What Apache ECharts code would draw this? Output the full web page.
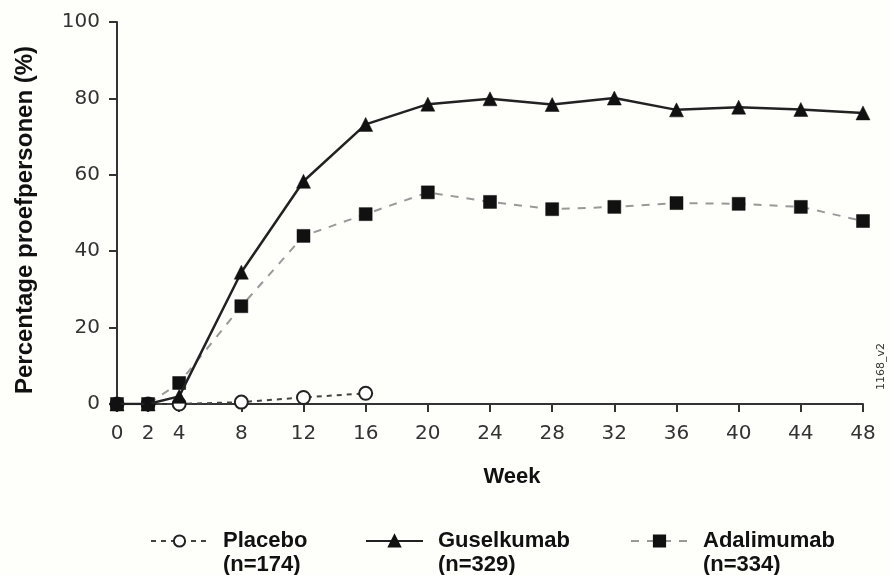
<!DOCTYPE html>
<html>
<head>
<meta charset="utf-8">
<script src="https://cdn.jsdelivr.net/npm/echarts@6/dist/echarts.min.js"></script>
<style>html,body{margin:0;padding:0;background:#fefefb;}#c{width:890px;height:575px;}</style>
</head>
<body>
<div id="c"></div>
<script>
const weeks = [0, 2, 4, 8, 12, 16, 20, 24, 28, 32, 36, 40, 44, 48];
const placeboWeeks = [0, 2, 4, 8, 12, 16];
const placebo = [0, 0, 0, 0.5, 1.7, 2.8];
const guselkumab = [0, 0, 2, 34.5, 58.3, 73.2, 78.5, 79.9, 78.4, 80.1, 77.0, 77.7, 77.1, 76.2];
const adalimumab = [0, 0, 5.5, 25.6, 44.0, 49.7, 55.4, 52.9, 51.0, 51.6, 52.6, 52.4, 51.6, 47.9];
const xTicks = [0, 2, 4, 8, 12, 16, 20, 24, 28, 32, 36, 40, 44, 48];
const yTicks = [0, 20, 40, 60, 80, 100];
const names = ['Placebo', 'Guselkumab', 'Adalimumab'];
const counts = ['(n=174)', '(n=329)', '(n=334)'];

const pair = (xs, ys) => xs.map((x, i) => [x, ys[i]]);
const legendText = n => '\n' + n + '\n' + counts[names.indexOf(n)];

const chart = echarts.init(document.getElementById('c'));
const legendBase = {
  orient: 'horizontal', top: 500, itemWidth: 57, itemHeight: 14,
  textStyle: { fontFamily: 'Liberation Sans', fontWeight: 'bold', fontSize: 22, color: '#111', lineHeight: 24, padding: [0, 0, 0, 10] },
  formatter: legendText, selectedMode: false
};
chart.setOption({
  backgroundColor: '#fefefb',
  animation: false,
  grid: { left: 117, right: 27, top: 22, bottom: 171 },
  xAxis: {
    type: 'value', min: 0, max: 48,
    name: 'Week', nameLocation: 'middle', nameGap: 62,
    nameTextStyle: { fontFamily: 'Liberation Sans', fontWeight: 'bold', fontSize: 22, color: '#111', padding: [0, 0, 0, 44] },
    axisLine: { lineStyle: { color: '#333', width: 2 } },
    axisTick: { customValues: xTicks, length: 8, lineStyle: { color: '#333', width: 2 } },
    axisLabel: { customValues: xTicks, fontFamily: 'DejaVu Sans', fontSize: 20, color: '#333', margin: 20 },
    splitLine: { show: false }
  },
  yAxis: {
    type: 'value', min: 0, max: 100, interval: 20,
    name: 'Percentage proefpersonen (%)', nameLocation: 'middle', nameGap: 80, nameRotate: 90,
    nameTextStyle: { fontFamily: 'Liberation Sans', fontWeight: 'bold', fontSize: 24, color: '#111', padding: [0, 14, 0, 0] },
    axisLine: { show: true, lineStyle: { color: '#333', width: 2 } },
    axisTick: { show: true, length: 8, lineStyle: { color: '#333', width: 2 } },
    axisLabel: { fontFamily: 'DejaVu Sans', fontSize: 20, color: '#333', margin: 17 },
    splitLine: { show: false }
  },
  legend: [
    Object.assign({}, legendBase, { left: 145, data: ['Placebo'] }),
    Object.assign({}, legendBase, { left: 360, data: ['Guselkumab'] }),
    Object.assign({}, legendBase, { left: 625, data: ['Adalimumab'] })
  ],
  series: [
    {
      name: 'Placebo', type: 'line', data: pair(placeboWeeks, placebo), z: 3,
      symbol: 'circle', symbolSize: 13,
      lineStyle: { color: '#444', width: 2, type: [5, 5] },
      itemStyle: { color: '#fff', borderColor: '#222', borderWidth: 2 }
    },
    {
      name: 'Adalimumab', type: 'line', data: pair(weeks, adalimumab), z: 4,
      symbol: 'rect', symbolSize: 13,
      lineStyle: { color: '#999', width: 2, type: [8, 8] },
      itemStyle: { color: '#111', borderColor: '#111', borderWidth: 0.5 }
    },
    {
      name: 'Guselkumab', type: 'line', data: pair(weeks, guselkumab), z: 5,
      symbol: 'triangle', symbolSize: 14,
      lineStyle: { color: '#222', width: 2.5 },
      itemStyle: { color: '#111', borderColor: '#111', borderWidth: 0.5 }
    }
  ],
  graphic: [{
    type: 'text', left: 876, top: 343, rotation: Math.PI / 2,
    style: { text: '1168_v2', fontFamily: 'DejaVu Sans', fontSize: 11, fill: '#333' }
  }]
});
</script>
</body>
</html>
